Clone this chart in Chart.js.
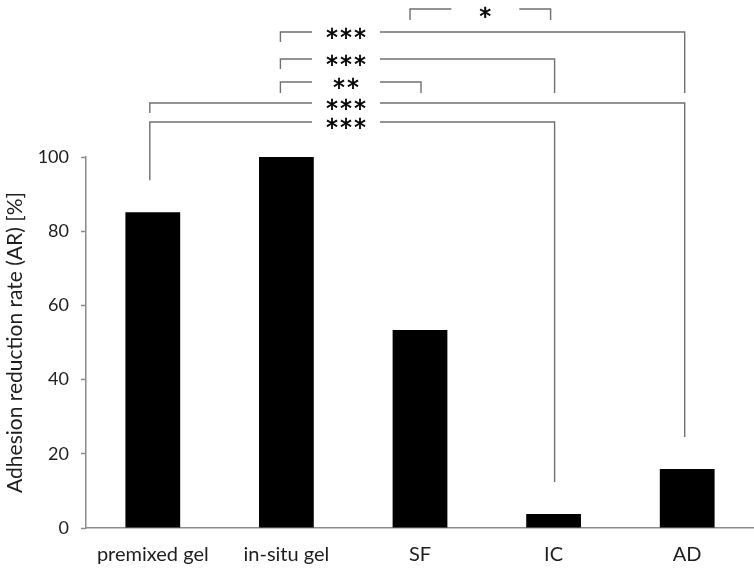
<!DOCTYPE html>
<html>
<head>
<meta charset="utf-8">
<script src="https://cdn.jsdelivr.net/npm/chart.js@4/dist/chart.umd.min.js"></script>
<style>
  html, body { margin: 0; padding: 0; background: #fff; }
  #wrap { width: 754px; height: 573px; position: relative; }
</style>
</head>
<body>
<div id="wrap"><canvas id="arChart"></canvas></div>
<script>
const categories = ['premixed gel', 'in-situ gel', 'SF', 'IC', 'AD'];
const arValues = [85.1, 100, 53.4, 3.8, 15.9];
const yTicks = [0, 20, 40, 60, 80, 100];

// significance brackets: [left category, right category] and the stars
const sigPairs = [[2, 3], [1, 4], [1, 3], [1, 2], [0, 4], [0, 3]];
const sigLabels = ['*', '***', '***', '**', '***', '***'];

const lineColor = '#707070';
const axisColor = '#8c8c8c';
const textColor = '#1e1e1e';

// drawing layout of each bracket (pixels above the plot)
const bracketLayout = [
  { y: 9,   left: 20,  right: 20,  textX: 'mid', nudge: [-10, -3] },
  { y: 32,  left: 42,  right: 93,  textX: 346 },
  { y: 59,  left: 69,  right: 93,  textX: 346 },
  { y: 82,  left: 93,  right: 93,  textX: 346 },
  { y: 103, left: 113, right: 'bar', textX: 346 },
  { y: 122, left: 'bar', right: 'bar', textX: 346 }
];
const catNudge = [-3, -6, 1, 1, -2.5];

const bracketPlugin = {
  id: 'brackets',
  afterDraw(chart) {
    const c = chart.ctx;
    const xs = chart.scales.x, ys = chart.scales.y;
    c.save();
    sigPairs.forEach((pair, i) => {
      const lay = bracketLayout[i];
      const n = lay.nudge || [catNudge[pair[0]], catNudge[pair[1]]];
      const x1 = xs.getPixelForValue(pair[0]) + n[0];
      const x2 = xs.getPixelForValue(pair[1]) + n[1];
      const y = lay.y;
      const yl = lay.left === 'bar' ? ys.getPixelForValue(arValues[pair[0]]) - 32 : lay.left;
      const yr = lay.right === 'bar' ? ys.getPixelForValue(arValues[pair[1]]) - 32 : lay.right;
      const tx = lay.textX === 'mid' ? (x1 + x2) / 2 + 5 : lay.textX;
      const half = 34;
      c.strokeStyle = lineColor;
      c.lineWidth = 1.4;
      c.beginPath();
      c.moveTo(x1, yl);
      c.lineTo(x1, y);
      c.lineTo(tx - half, y);
      c.moveTo(tx + half, y);
      c.lineTo(x2, y);
      c.lineTo(x2, yr);
      c.stroke();

      // stars, spaced like the original
      c.fillStyle = '#000';
      c.strokeStyle = '#000';
      c.lineWidth = 0.7;
      c.font = '23px "DejaVu Sans"';
      c.textAlign = 'center';
      c.textBaseline = 'alphabetic';
      const s = sigLabels[i];
      const step = 14;
      for (let k = 0; k < s.length; k++) {
        const sx = tx + (k - (s.length - 1) / 2) * step;
        const sy = y + (s.length === 1 ? 15 : 12.5);
        c.fillText(s[k], sx, sy);
        c.strokeText(s[k], sx, sy);
      }
    });
    c.restore();
  }
};

const ctx = document.getElementById('arChart').getContext('2d');
new Chart(ctx, {
  type: 'bar',
  data: {
    labels: categories,
    datasets: [{
      data: arValues,
      backgroundColor: '#000',
      borderWidth: 0,
      barPercentage: 0.41,
      categoryPercentage: 1
    }]
  },
  options: {
    responsive: true,
    maintainAspectRatio: false,
    animation: false,
    layout: { padding: { top: 157, right: 0, left: 0, bottom: 0 } },
    plugins: {
      legend: { display: false },
      tooltip: { enabled: false }
    },
    scales: {
      x: {
        grid: { display: false },
        border: { color: axisColor, width: 1.5 },
        ticks: {
          color: textColor,
          font: { family: 'Lato', size: 20 },
          padding: 7,
          maxRotation: 0
        },
        afterFit(scale) { scale.height = 45; }
      },
      y: {
        min: 0,
        max: 100,
        afterBuildTicks(scale) { scale.ticks = yTicks.map(v => ({ value: v })); },
        grid: { drawOnChartArea: false, tickLength: 5, color: axisColor, tickWidth: 1.5 },
        border: { color: axisColor, width: 1.5 },
        ticks: {
          color: textColor,
          font: { family: 'Lato', size: 18 },
          padding: 12
        },
        title: {
          display: true,
          text: 'Adhesion reduction rate (AR) [%]',
          color: textColor,
          font: { family: 'Lato', size: 21 },
          padding: { top: 3, bottom: 0 }
        },
        afterFit(scale) { scale.width = 86; }
      }
    }
  },
  plugins: [bracketPlugin]
});
</script>
</body>
</html>
